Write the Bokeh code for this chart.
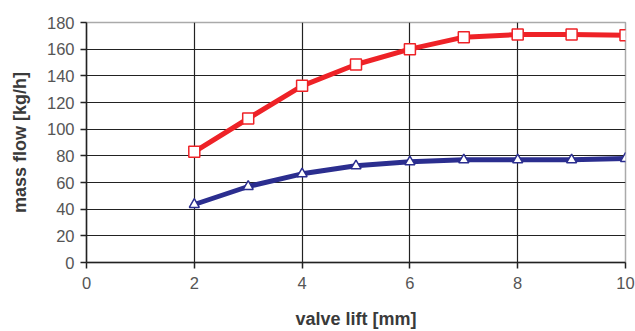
from bokeh.plotting import figure
from bokeh.models import Range1d, FixedTicker
from bokeh.embed import file_html
from bokeh.resources import INLINE

lift = [2, 3, 4, 5, 6, 7, 8, 9, 10]
flow_red = [83, 108, 132.5, 148.5, 160, 169, 171, 171, 170.5]
flow_blue = [43.5, 57, 66.5, 72.5, 75.5, 77, 77, 77, 78]
x_ticks = [0, 2, 4, 6, 8, 10]
y_ticks = [0, 20, 40, 60, 80, 100, 120, 140, 160, 180]

p = figure(width=635, height=331, output_backend="svg", toolbar_location=None,
           x_range=Range1d(0, 10), y_range=Range1d(0, 180),
           min_border_left=86, min_border_right=10, min_border_top=22, min_border_bottom=69)
p.background_fill_color = "white"
p.border_fill_color = "white"
p.outline_line_color = "#aaaaaa"
p.outline_line_width = 1.5

p.xaxis.ticker = FixedTicker(ticks=x_ticks)
p.yaxis.ticker = FixedTicker(ticks=y_ticks)
for ax in (p.xaxis[0], p.yaxis[0]):
    ax.axis_line_color = "#222222"
    ax.axis_line_width = 1.5
    ax.major_tick_line_color = "#222222"
    ax.major_tick_line_width = 1.5
    ax.major_tick_out = 6
    ax.major_tick_in = 0
    ax.minor_tick_line_color = None
    ax.major_label_text_font = "Liberation Sans"
    ax.major_label_text_font_size = "16.5px"
    ax.major_label_text_color = "#555555"
    ax.axis_label_text_font = "Liberation Sans"
    ax.axis_label_text_font_size = "18px"
    ax.axis_label_text_font_style = "bold"
    ax.axis_label_text_color = "#3a3a3a"

p.xaxis.axis_label = "valve lift [mm]"
p.yaxis.axis_label = "mass flow [kg/h]"
p.xaxis.major_label_standoff = 8
p.xaxis.axis_label_standoff = 17
p.yaxis.major_label_standoff = 6
p.yaxis.axis_label_standoff = 14

p.xgrid.ticker = FixedTicker(ticks=x_ticks)
p.ygrid.ticker = FixedTicker(ticks=y_ticks)
for g in (p.xgrid[0], p.ygrid[0]):
    g.grid_line_color = "#222222"
    g.grid_line_width = 1.2
    g.grid_line_alpha = 1.0

p.line(lift, flow_red, line_color="#ee2227", line_width=5)
p.scatter(lift, flow_red, marker="square", size=11, fill_color="white",
          line_color="#ee2227", line_width=1.5)
p.line(lift, flow_blue, line_color="#2b2e8f", line_width=5)
p.scatter(lift, flow_blue, marker="triangle", size=10, fill_color="white",
          line_color="#2b2e8f", line_width=1.5)

open("out.html", "w").write(file_html(p, INLINE))
